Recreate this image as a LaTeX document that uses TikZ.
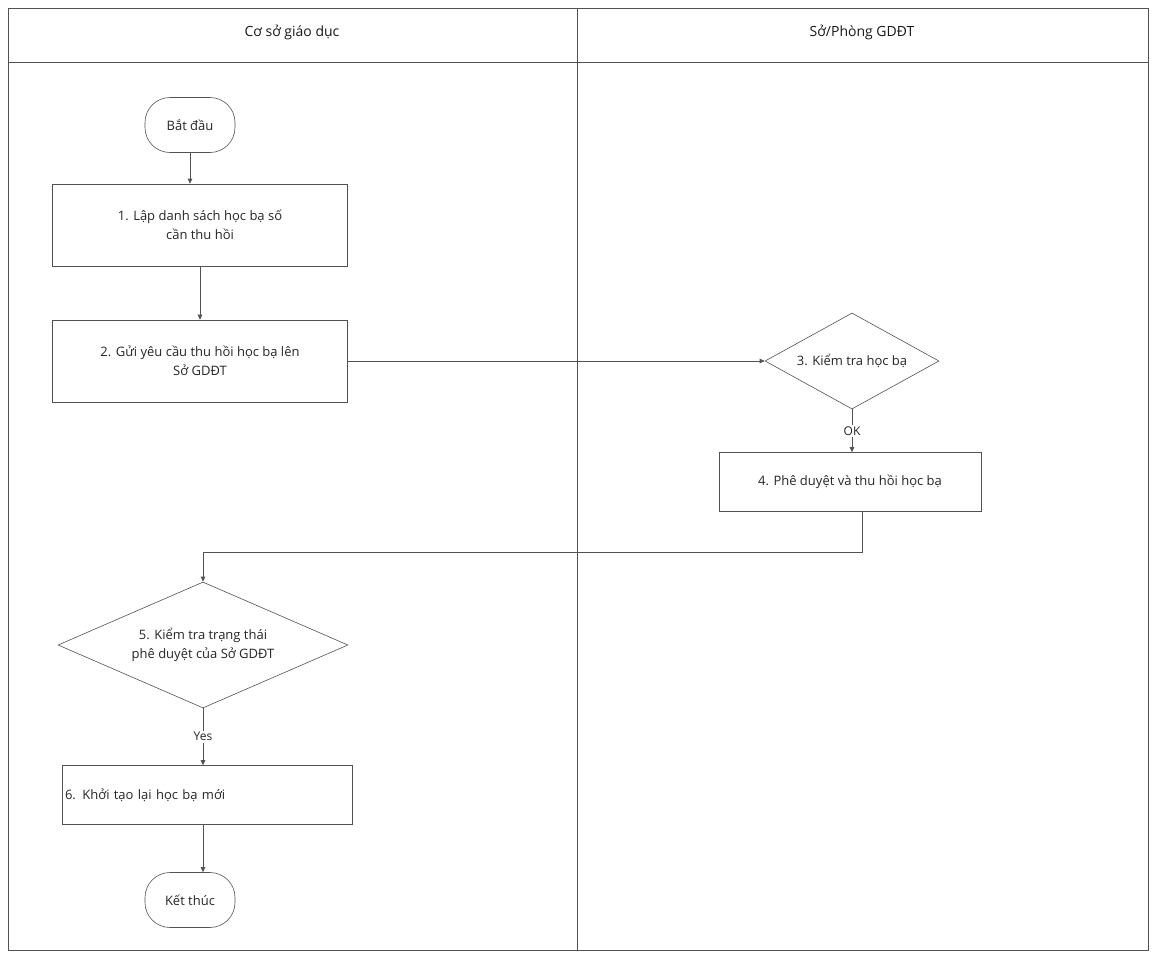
\documentclass[tikz,border=0pt]{standalone}
\usepackage{fontspec}
\setmainfont{Open Sans}
\usetikzlibrary{shapes.geometric,arrows.meta}
\begin{document}
\begin{tikzpicture}[x=1pt,y=-1pt,
  ln/.style={draw=black!68,line width=0.6pt},
  arr/.style={ln,-{Triangle[length=5pt,width=4.5pt]}},
  txt/.style={font=\fontsize{13}{19}\selectfont,text=black!85},
  proc/.style={ln,txt,rectangle,minimum width=295pt,minimum height=82pt,align=center,inner sep=0pt},
  term/.style={ln,txt,rectangle,rounded corners=25pt,minimum width=90pt,minimum height=55pt,inner sep=0pt},
  dec/.style={ln,txt,diamond,inner sep=0pt,align=center},
  lbl/.style={font=\fontsize{12}{14}\selectfont,text=black!85,fill=white,inner sep=1.5pt},
  hdr/.style={font=\fontsize{14}{17}\selectfont,text=black!90}]
\useasboundingbox (0,0) rectangle (1152,956);
\fill[white] (0,0) rectangle (1152,956);
% lanes
\draw[ln] (8,8) rectangle (1148,950);
\draw[ln] (8,62) -- (1148,62);
\draw[ln] (577,8) -- (577,950);
\node[hdr] (h1) at (292,32) {Cơ sở giáo dục};
\node[hdr] (h2) at (862,32) {Sở/Phòng GDĐT};
% nodes
\node[term] (start) at (190,125) {Bắt đầu};
\node[proc] (b1) at (200,225) {1. Lập danh sách học bạ số\\cần thu hồi};
\node[proc] (b2) at (200,361) {2. Gửi yêu cầu thu hồi học bạ lên\\Sở GDĐT};
\node[dec,aspect=1.8,minimum width=174pt,minimum height=96pt] (d3) at (852,361) {3. Kiểm tra học bạ};
\node[proc,minimum width=262pt,minimum height=59pt] (b4) at (850,482) {4. Phê duyệt và thu hồi học bạ};
\node[dec,aspect=2.3,minimum width=290pt,minimum height=126pt] (d5) at (203,645) {5. Kiểm tra trạng thái\\phê duyệt của Sở GDĐT};
\node[proc,minimum width=290pt,minimum height=59pt,text width=284pt,align=left] (b6) at (207,795) {6. Khởi tạo lại học bạ mới};
\node[term] (end) at (190,900) {Kết thúc};
\coordinate (c1) at (862,552);
\coordinate (c2) at (203,552);
% connectors
\draw[arr] (start.south) -- (start.south |- b1.north);
\draw[arr] (b1.south) -- (b2.north);
\draw[arr] (b2.east) -- (d3.west);
\draw[arr] (d3.south) -- node[lbl]{OK} (d3.south |- b4.north);
\draw[arr] (c1 |- b4.south) -- (c1) -- (c2) -- (d5.north);
\draw[arr] (d5.south) -- node[lbl]{Yes} (d5.south |- b6.north);
\draw[arr] (b6.south -| d5.south) -- (d5.south |- end.north);
\end{tikzpicture}
\end{document}
